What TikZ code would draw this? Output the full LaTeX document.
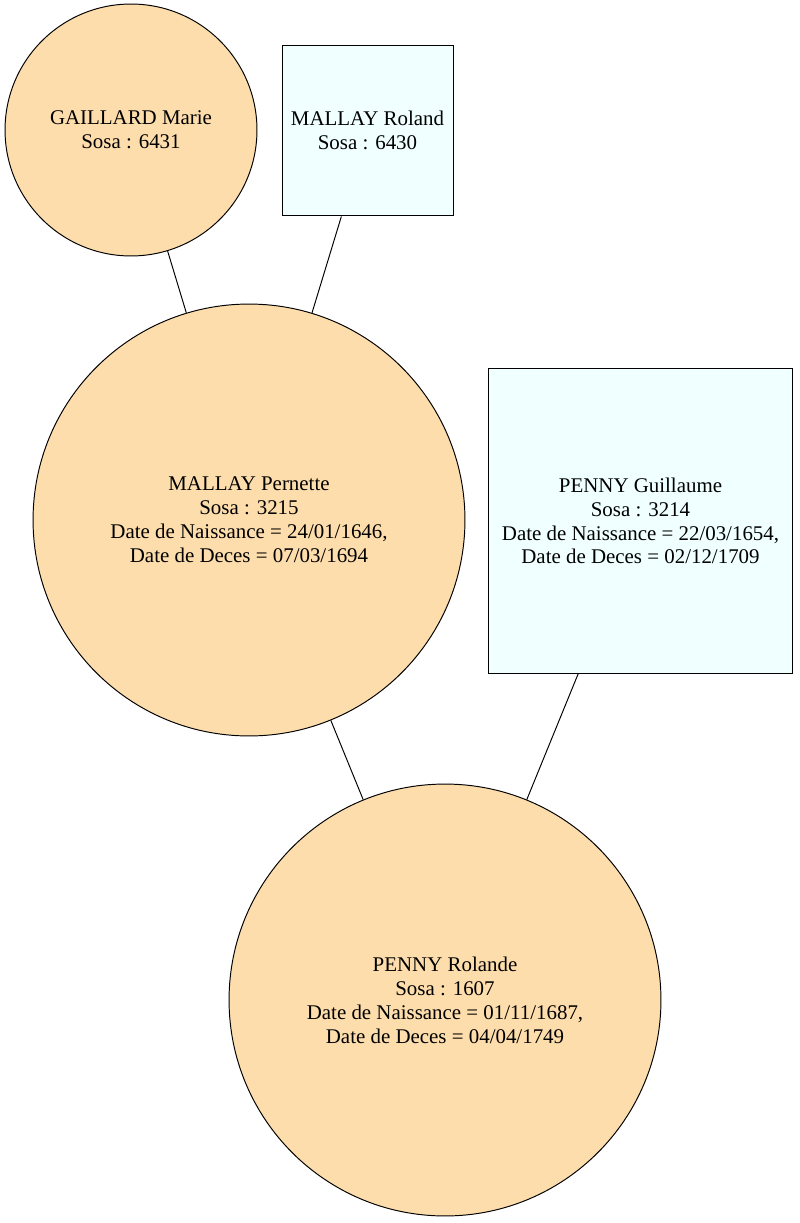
\documentclass[tikz,border=0pt]{standalone}
\usepackage{fontspec}
\setmainfont{Liberation Serif}
\definecolor{femme}{HTML}{FDDDAC}
\definecolor{homme}{HTML}{F0FFFF}
\begin{document}
\begin{tikzpicture}[x=0.02cm, y=-0.02cm,
  every node/.style={font=\fontsize{11.9}{13.6}\selectfont, align=center, line width=0.55pt},
  femmenode/.style={draw, circle, fill=femme, inner sep=0pt},
  hommenode/.style={draw, rectangle, fill=homme, inner sep=0pt},
  lien/.style={line width=0.55pt}]
\useasboundingbox (0,0) rectangle (799,1223);
% ancestors
\node[femmenode, minimum size=5.04cm] (gaillard) at (131,130) {GAILLARD Marie\\Sosa : 6431};
\node[hommenode, minimum size=3.42cm] (roland) at (367.5,130.5) {MALLAY Roland\\Sosa : 6430};
% parents
\node[femmenode, minimum size=8.64cm] (pernette) at (249,520) {MALLAY Pernette\\Sosa : 3215\\Date de Naissance = 24/01/1646,\\Date de Deces = 07/03/1694};
\node[hommenode, minimum size=6.1cm] (guillaume) at (640.5,521) {PENNY Guillaume\\Sosa : 3214\\Date de Naissance = 22/03/1654,\\Date de Deces = 02/12/1709};
% root
\node[femmenode, minimum size=8.64cm] (rolande) at (445,1000) {PENNY Rolande\\Sosa : 1607\\Date de Naissance = 01/11/1687,\\Date de Deces = 04/04/1749};
% links
\draw[lien] (gaillard) -- (pernette);
\draw[lien] (roland) -- (pernette);
\draw[lien] (pernette) -- (rolande);
\draw[lien] (guillaume) -- (rolande);
\end{tikzpicture}
\end{document}
